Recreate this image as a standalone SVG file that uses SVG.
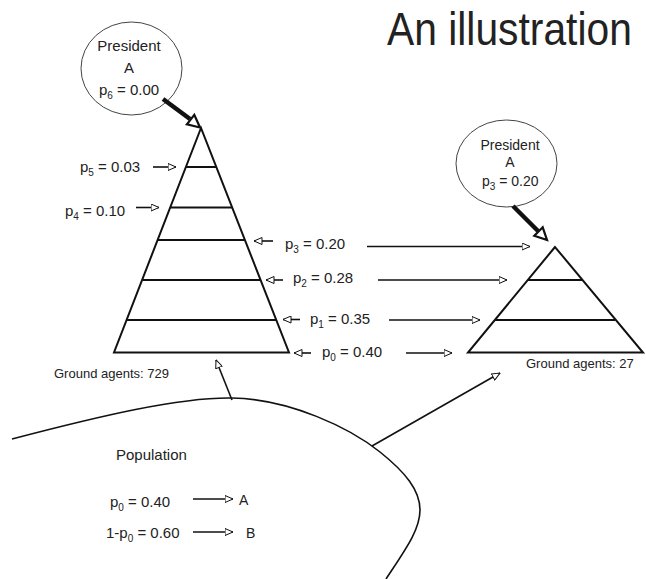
<svg xmlns="http://www.w3.org/2000/svg" width="646" height="579" viewBox="0 0 646 579">
<defs>
<style>
text{font-family:"Liberation Sans",Arial,sans-serif;fill:#222}
.t15{font-size:15px}
.t14{font-size:14px}
.t13{font-size:13px}
.sub{font-size:10px}
.edge{stroke:#111;stroke-width:1.6;fill:none}
.pyr{stroke:#111;stroke-width:2;fill:none}
.thick{stroke:#111;stroke-width:4.5;fill:none}
.head{fill:#fff;stroke:#111;stroke-width:2.2}
.ell{fill:#fff;stroke:#444;stroke-width:1}
</style>
<marker id="oa" viewBox="0 0 9 8" refX="8.5" refY="4" markerWidth="9" markerHeight="8" markerUnits="userSpaceOnUse" orient="auto">
<path d="M0.5,0.5 L8.5,4 L0.5,7.5 z" fill="#fff" stroke="#111" stroke-width="1"/>
</marker>
</defs>
<rect width="646" height="579" fill="#fff"/>
<text transform="translate(387,45) scale(0.868,1)" x="0" y="0" font-size="47">An illustration</text>

<g id="population">
<path class="edge" d="M12,439 C100,416 180,397 232,398 C290,399 350,428 380,452 C405,472 420,490 420,510 C420,530 405,550 386,579"/>
<text class="t15" x="116" y="460">Population</text>
<text class="t15" x="110" y="507">p<tspan class="sub" dy="4">0</tspan><tspan dy="-4"> = 0.40</tspan></text>
<text class="t15" x="106" y="538">1-p<tspan class="sub" dy="4">0</tspan><tspan dy="-4"> = 0.60</tspan></text>
<text class="t14" x="239" y="505">A</text>
<text class="t14" x="246" y="538">B</text>
</g>

<g id="president-left">
<ellipse class="ell" cx="131.5" cy="68.5" rx="50.5" ry="46.5"/>
<text class="t15" x="129" y="50.5" text-anchor="middle">President</text>
<text class="t15" x="129" y="72.5" text-anchor="middle">A</text>
<text class="t15" x="99" y="94.5">p<tspan class="sub" dy="4">6</tspan><tspan dy="-4"> = 0.00</tspan></text>
</g>

<g id="president-right">
<ellipse class="ell" cx="506.5" cy="163.5" rx="50.5" ry="43.5"/>
<text class="t14" x="510" y="150" text-anchor="middle">President</text>
<text class="t14" x="510" y="167" text-anchor="middle">A</text>
<text class="t14" x="482" y="186">p<tspan class="sub" dy="4">3</tspan><tspan dy="-4"> = 0.20</tspan></text>
</g>

<g id="pyramid-left">
<path class="pyr" d="M201,128 L114,352.5 L289,352.5 Z"/>
<line class="pyr" x1="186" y1="167" x2="216" y2="167"/>
<line class="pyr" x1="170.5" y1="207.5" x2="232" y2="207.5"/>
<line class="pyr" x1="158" y1="240" x2="245" y2="240"/>
<line class="pyr" x1="143" y1="280" x2="260" y2="280"/>
<line class="pyr" x1="127" y1="320" x2="276" y2="320"/>
<text class="t13" x="54" y="378">Ground agents: 729</text>
</g>

<g id="pyramid-right">
<path class="pyr" d="M555,247 L468,352.5 L643,352.5 Z"/>
<line class="pyr" x1="528" y1="280" x2="582" y2="280"/>
<line class="pyr" x1="495" y1="320" x2="615" y2="320"/>
<text class="t13" x="526" y="368">Ground agents: 27</text>
</g>

<g id="labels">
<text class="t15" x="80" y="171.5">p<tspan class="sub" dy="4">5</tspan><tspan dy="-4"> = 0.03</tspan></text>
<text class="t15" x="65" y="216">p<tspan class="sub" dy="4">4</tspan><tspan dy="-4"> = 0.10</tspan></text>
<text class="t15" x="285" y="249">p<tspan class="sub" dy="4">3</tspan><tspan dy="-4"> = 0.20</tspan></text>
<text class="t15" x="293" y="283">p<tspan class="sub" dy="4">2</tspan><tspan dy="-4"> = 0.28</tspan></text>
<text class="t15" x="310" y="323.5">p<tspan class="sub" dy="4">1</tspan><tspan dy="-4"> = 0.35</tspan></text>
<text class="t15" x="322" y="357">p<tspan class="sub" dy="4">0</tspan><tspan dy="-4"> = 0.40</tspan></text>
</g>

<g id="connectors">
<line class="edge" x1="153" y1="167" x2="176" y2="167" marker-end="url(#oa)"/>
<line class="edge" x1="136" y1="207.5" x2="159" y2="207.5" marker-end="url(#oa)"/>
<line class="edge" x1="273" y1="241" x2="254" y2="241" marker-end="url(#oa)"/>
<line class="edge" x1="283" y1="280" x2="266" y2="280" marker-end="url(#oa)"/>
<line class="edge" x1="300" y1="319.5" x2="283" y2="319.5" marker-end="url(#oa)"/>
<line class="edge" x1="311" y1="353" x2="294" y2="353" marker-end="url(#oa)"/>
<line class="edge" x1="367" y1="246.5" x2="530" y2="246.5" marker-end="url(#oa)"/>
<line class="edge" x1="378" y1="280" x2="507" y2="280" marker-end="url(#oa)"/>
<line class="edge" x1="389" y1="320" x2="480" y2="320" marker-end="url(#oa)"/>
<line class="edge" x1="406" y1="353" x2="452" y2="353" marker-end="url(#oa)"/>
<line class="edge" x1="193" y1="499" x2="233" y2="499" marker-end="url(#oa)"/>
<line class="edge" x1="193" y1="532" x2="233" y2="532" marker-end="url(#oa)"/>
<line class="edge" x1="232" y1="400" x2="216" y2="360" marker-end="url(#oa)"/>
<line class="edge" x1="372" y1="446" x2="500" y2="373" marker-end="url(#oa)"/>
<line class="thick" x1="163" y1="99" x2="190" y2="119"/>
<path class="head" d="M200,127.5 L186.9,124.3 L194.3,114.9 Z"/>
<line class="thick" x1="513" y1="206" x2="538" y2="231"/>
<path class="head" d="M547,240 L534.3,235.7 L542.7,227.3 Z"/>
</g>
</svg>
